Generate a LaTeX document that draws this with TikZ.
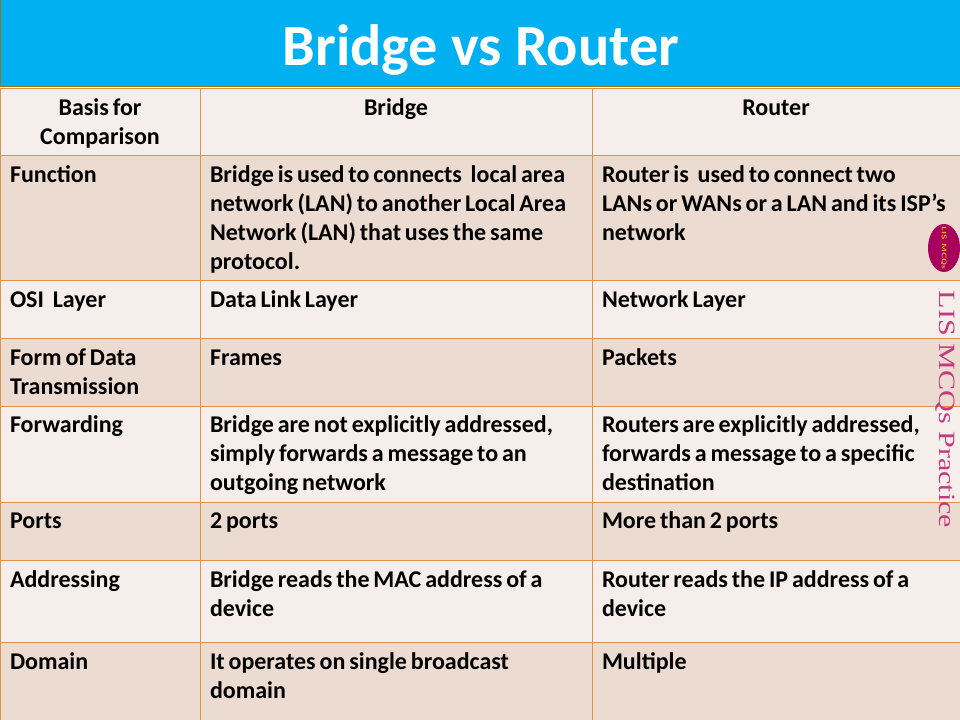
\documentclass[tikz,border=0pt]{standalone}
\usepackage{fontspec}
\usetikzlibrary{shapes.geometric}
\setmainfont{Carlito}
\newfontfamily\logofont{Liberation Serif}
\definecolor{banner}{HTML}{00B0F0}
\definecolor{rowlight}{HTML}{F6EEEA}
\definecolor{rowdark}{HTML}{ECDBD0}
\definecolor{gridline}{HTML}{D9954A}
\definecolor{banneredge}{HTML}{8F7A1E}
\definecolor{logofill}{HTML}{A8005A}
\definecolor{logotext}{HTML}{E8B020}
\definecolor{markcol}{HTML}{C23A80}
\newcommand{\tightspaces}{\spaceskip=2.9pt\relax}
\newcommand{\widegap}{\hspace*{6.6pt}}
\tikzset{
  x=0.75pt,y=-0.75pt,
  cell/.style={anchor=base west,inner sep=0pt,outer sep=0pt,yshift=-0.6pt,font=\bfseries\fontsize{18pt}{20pt}\selectfont,execute at begin node=\tightspaces,text=black},
  head/.style={cell,anchor=base},
  gridrule/.style={draw=gridline,line width=0.7pt},
}
\begin{document}
\begin{tikzpicture}
\useasboundingbox (0,0) rectangle (960,720);
% banner
\fill[banner] (0,0) rectangle (960,86);
\draw[banneredge,line width=0.9pt] (0.6,0) -- (0.6,86.5) -- (960,86.5);
\node[anchor=base,inner sep=0pt,text=white,font=\bfseries\fontsize{43.7pt}{50pt}\selectfont] (title) at (481,66) {Bridge vs Router};
% rows
\fill[rowlight] (0,88) rectangle (960,155);
\fill[rowdark]  (0,155) rectangle (960,280);
\fill[rowlight] (0,280) rectangle (960,338);
\fill[rowdark]  (0,338) rectangle (960,406);
\fill[rowlight] (0,406) rectangle (960,502);
\fill[rowdark]  (0,502) rectangle (960,560);
\fill[rowlight] (0,560) rectangle (960,642);
\fill[rowdark]  (0,642) rectangle (960,720);
% grid
\foreach \yy in {88,155,280,338,406,502,560,642}
  \draw[gridrule] (0,\yy) -- (960,\yy);
\foreach \xx in {0.6,200.5,592.5}
  \draw[gridrule] (\xx,88) -- (\xx,720);
% header
\node[head] (h1a) at (100,115) {Basis for};
\node[head] (h1b) at (100,144) {Comparison};
\node[head] (h2) at (396,115) {Bridge};
\node[head] (h3) at (776,115) {Router};
% function
\node[cell] (a1) at (10,182) {Function};
\node[cell] (b1a) at (210,182) {Bridge is used to connects\widegap local area};
\node[cell] (b1b) at (210,211) {network (LAN) to another Local Area};
\node[cell] (b1c) at (210,240) {Network (LAN) that uses the same};
\node[cell] (b1d) at (210,269) {protocol.};
\node[cell] (c1a) at (602,182) {Router is\widegap used to connect two};
\node[cell] (c1b) at (602,211) {LANs or WANs or a LAN and its ISP’s};
\node[cell] (c1c) at (602,240) {network};
% OSI
\node[cell] (a2) at (10,307) {OSI\widegap Layer};
\node[cell] (b2) at (210,307) {Data Link Layer};
\node[cell] (c2) at (602,307) {Network Layer};
% form
\node[cell] (a3a) at (10,365) {Form of Data};
\node[cell] (a3b) at (10,394) {Transmission};
\node[cell] (b3) at (210,365) {Frames};
\node[cell] (c3) at (602,365) {Packets};
% forwarding
\node[cell] (a4) at (10,432) {Forwarding};
\node[cell] (b4a) at (210,432) {Bridge are not explicitly addressed,};
\node[cell] (b4b) at (210,461) {simply forwards a message to an};
\node[cell] (b4c) at (210,490) {outgoing network};
\node[cell] (c4a) at (602,432) {Routers are explicitly addressed,};
\node[cell] (c4b) at (602,461) {forwards a message to a specific};
\node[cell] (c4c) at (602,490) {destination};
% ports
\node[cell] (a5) at (10,528) {Ports};
\node[cell] (b5) at (210,528) {2 ports};
\node[cell] (c5) at (602,528) {More than 2 ports};
% addressing
\node[cell] (a6) at (10,587) {Addressing};
\node[cell] (b6a) at (210,587) {Bridge reads the MAC address of a};
\node[cell] (b6b) at (210,616) {device};
\node[cell] (c6a) at (602,587) {Router reads the IP address of a};
\node[cell] (c6b) at (602,616) {device};
% domain
\node[cell] (a7) at (10,669) {Domain};
\node[cell] (b7a) at (210,669) {It operates on single broadcast};
\node[cell] (b7b) at (210,698) {domain};
\node[cell] (c7) at (602,669) {Multiple};
% logo
\node[ellipse,fill=logofill,minimum width=24pt,minimum height=36pt,inner sep=0pt] (logo) at (944,248) {};
\node[rotate=-90,xscale=1.35,inner sep=0pt,text=logotext,font=\sffamily\bfseries\fontsize{5pt}{6pt}\selectfont] (logotxt) at (944,248) {LIS MCQs};
\node[rotate=-90,xscale=1.29,anchor=center,inner sep=0pt,text=markcol,font=\logofont\fontsize{17.5pt}{20pt}\selectfont] (mark) at (945,409.5) {LIS MCQs Practice};
\end{tikzpicture}
\end{document}
